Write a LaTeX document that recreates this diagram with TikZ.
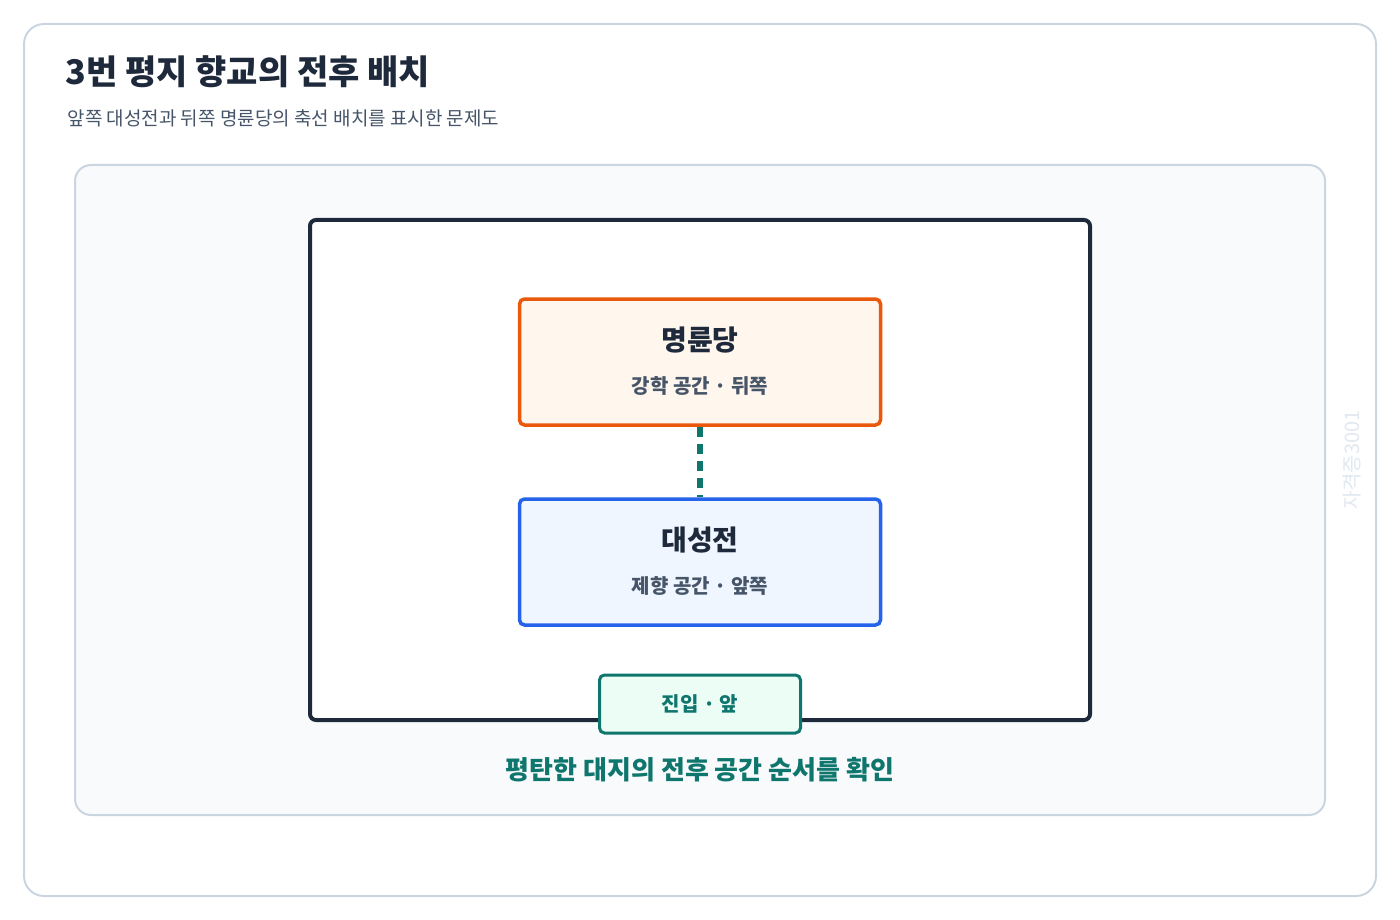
\documentclass[tikz,border=0pt]{standalone}
\usepackage{fontspec}
\setmainfont{Noto Sans CJK KR}
\usetikzlibrary{positioning}
\definecolor{cardline}{HTML}{CBD5E1}
\definecolor{panelfill}{HTML}{F8FAFC}
\definecolor{ink}{HTML}{1E293B}
\definecolor{subink}{HTML}{475569}
\definecolor{hallline}{HTML}{EA580C}
\definecolor{hallfill}{HTML}{FFF7ED}
\definecolor{shrineline}{HTML}{2563EB}
\definecolor{shrinefill}{HTML}{EFF6FF}
\definecolor{gateline}{HTML}{0F766E}
\definecolor{gatefill}{HTML}{ECFDF5}
\definecolor{markgray}{HTML}{E2E8F0}
\tikzset{
  bldg/.style={draw, line width=3.5pt, rounded corners=5pt, minimum width=361pt, minimum height=126pt},
  bldgname/.style={font=\fontsize{28}{30}\selectfont\bfseries, text=ink},
  bldgrole/.style={font=\fontsize{20}{22}\selectfont\bfseries, text=subink}
}
\begin{document}
\begin{tikzpicture}[x=1pt,y=-1pt]
\useasboundingbox (0,0) rectangle (1400,920);
\draw[cardline, line width=2pt, rounded corners=20pt, fill=white] (24,24) rectangle (1376,896);
\node[anchor=west, font=\fontsize{34}{36}\selectfont\bfseries, text=ink] (title) at (62,72) {3번 평지 향교의 전후 배치};
\node[anchor=west, font=\fontsize{19}{21}\selectfont, text=subink] (subtitle) at (64,118) {앞쪽 대성전과 뒤쪽 명륜당의 축선 배치를 표시한 문제도};
\draw[cardline, line width=2pt, rounded corners=16pt, fill=panelfill] (75,165) rectangle (1325,815);
\draw[ink, line width=4pt, rounded corners=6pt, fill=white] (310,220) rectangle (1090,720);

\node[bldg, draw=hallline, fill=hallfill] (hall) at (700,362) {};
\node[bldgname] (hallname) at (700,340) {명륜당};
\node[bldgrole] (hallrole) at (700,386) {강학 공간 · 뒤쪽};

\node[bldg, draw=shrineline, fill=shrinefill] (shrine) at (700,562) {};
\node[bldgname] (shrinename) at (700,540) {대성전};
\node[bldgrole] (shrinerole) at (700,586) {제향 공간 · 앞쪽};

\draw[gateline, line width=6pt, dash pattern=on 10pt off 7pt] (hall.south) -- (shrine.north);

\node[draw=gateline, fill=gatefill, line width=3pt, rounded corners=5pt, minimum width=201pt, minimum height=58pt,
  font=\fontsize{20}{22}\selectfont\bfseries, text=gateline] (gate) at (700,704) {진입 · 앞};
\node[font=\fontsize{26}{28}\selectfont\bfseries, text=gateline] (caption) at (700,770) {평탄한 대지의 전후 공간 순서를 확인};
\node[rotate=90, font=\fontsize{20}{22}\selectfont, text=markgray] (mark) at (1352,460) {자격증3001};
\end{tikzpicture}
\end{document}
